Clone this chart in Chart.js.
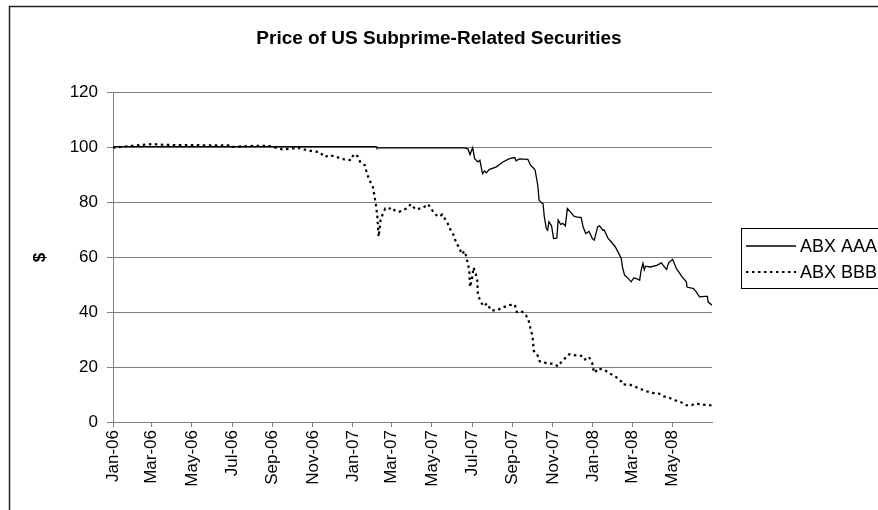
<!DOCTYPE html>
<html>
<head>
<meta charset="utf-8">
<title>Price of US Subprime-Related Securities</title>
<script src="https://cdn.jsdelivr.net/npm/chart.js@4.4.0/dist/chart.umd.min.js"></script>
<style>
  html, body { margin: 0; padding: 0; background: #fff; overflow: hidden; }
  #wrap { position: relative; width: 878px; height: 510px; }
</style>
</head>
<body>
<div id="wrap"><canvas id="abxChart" width="878" height="510"></canvas></div>
<script>
// ABX index prices
var aaaDates = [
  '2006-01-01', '2007-02-05', '2007-02-06', '2007-06-20', '2007-06-25', '2007-06-28',
  '2007-07-02', '2007-07-05', '2007-07-10', '2007-07-13', '2007-07-17', '2007-07-20',
  '2007-07-23', '2007-07-27', '2007-08-07', '2007-08-17', '2007-08-27', '2007-09-04',
  '2007-09-06', '2007-09-11', '2007-09-24', '2007-09-28', '2007-10-03', '2007-10-05',
  '2007-10-09', '2007-10-11', '2007-10-15', '2007-10-17', '2007-10-19', '2007-10-22',
  '2007-10-24', '2007-10-26', '2007-10-30', '2007-11-02', '2007-11-07', '2007-11-09',
  '2007-11-13', '2007-11-16', '2007-11-20', '2007-11-23', '2007-11-28', '2007-12-03',
  '2007-12-07', '2007-12-14', '2007-12-17', '2007-12-21', '2007-12-26', '2007-12-31',
  '2008-01-03', '2008-01-08', '2008-01-11', '2008-01-16', '2008-01-18', '2008-01-24',
  '2008-01-29', '2008-02-04', '2008-02-08', '2008-02-13', '2008-02-15', '2008-02-18',
  '2008-02-22', '2008-02-28', '2008-03-03', '2008-03-07', '2008-03-12', '2008-03-14',
  '2008-03-17', '2008-03-19', '2008-03-21', '2008-03-28', '2008-04-07', '2008-04-14',
  '2008-04-17', '2008-04-22', '2008-04-25', '2008-05-01', '2008-05-07', '2008-05-15',
  '2008-05-22', '2008-05-23', '2008-06-02', '2008-06-06', '2008-06-11', '2008-06-19',
  '2008-06-23', '2008-06-24', '2008-06-30'
];
var aaaPrices = [
  100.4, 100.4, 99.9, 99.9, 99.5, 97.5,
  100, 96, 94.8, 95.4, 90.5, 91.5,
  90.8, 92, 93, 94.8, 96, 96.4,
  95.2, 95.9, 95.7, 93.6, 92.4, 91.8,
  86.3, 80.9, 79.8, 79.6, 74.8, 70.5,
  69.9, 73, 71.5, 66.9, 67, 73.6,
  72, 72.4, 71.5, 77.8, 76.5, 75,
  74.8, 74.5, 71.1, 68.7, 69.5, 66.9,
  66.3, 71.1, 71.5, 69.9, 70, 66.9,
  65.6, 63.8, 62, 59.6, 56.3, 53.5,
  52.7, 51.1, 52.5, 52.3, 51.7, 55,
  57.8, 55.5, 56.8, 56.5, 57.1, 58,
  57, 55.6, 58, 59.3, 55.9, 53.1,
  51.1, 49.2, 48.6, 47.4, 45.6, 45.8,
  45.8, 43.8, 42.6
];

var bbbDates = [
  '2006-01-01', '2006-01-31', '2006-03-02', '2006-03-23', '2006-05-12', '2006-06-27',
  '2006-07-02', '2006-08-07', '2006-08-27', '2006-09-16', '2006-09-29', '2006-10-12',
  '2006-10-22', '2006-11-01', '2006-11-11', '2006-11-19', '2006-11-26', '2006-12-07',
  '2006-12-19', '2006-12-29', '2007-01-02', '2007-01-08', '2007-01-12', '2007-01-19',
  '2007-01-22', '2007-01-26', '2007-01-31', '2007-02-02', '2007-02-05', '2007-02-07',
  '2007-02-09', '2007-02-12', '2007-02-15', '2007-02-19', '2007-02-23', '2007-03-01',
  '2007-03-05', '2007-03-12', '2007-03-16', '2007-03-23', '2007-03-30', '2007-04-06',
  '2007-04-17', '2007-04-25', '2007-04-30', '2007-05-04', '2007-05-11', '2007-05-17',
  '2007-05-25', '2007-05-29', '2007-06-04', '2007-06-07', '2007-06-12', '2007-06-15',
  '2007-06-20', '2007-06-22', '2007-06-25', '2007-06-27', '2007-06-28', '2007-07-02',
  '2007-07-03', '2007-07-06', '2007-07-09', '2007-07-10', '2007-07-13', '2007-07-18',
  '2007-07-24', '2007-07-30', '2007-08-08', '2007-08-16', '2007-08-27', '2007-09-04',
  '2007-09-07', '2007-09-14', '2007-09-21', '2007-09-25', '2007-09-28', '2007-10-01',
  '2007-10-02', '2007-10-03', '2007-10-08', '2007-10-12', '2007-10-17', '2007-10-24',
  '2007-11-01', '2007-11-09', '2007-11-14', '2007-11-19', '2007-11-26', '2007-12-03',
  '2007-12-07', '2007-12-17', '2007-12-20', '2007-12-26', '2007-12-31', '2008-01-02',
  '2008-01-04', '2008-01-08', '2008-01-18', '2008-01-25', '2008-02-05', '2008-02-13',
  '2008-02-15', '2008-02-26', '2008-03-04', '2008-03-12', '2008-03-21', '2008-03-31',
  '2008-04-10', '2008-04-17', '2008-04-25', '2008-05-05', '2008-05-14', '2008-05-22',
  '2008-05-30', '2008-06-04', '2008-06-13', '2008-06-23', '2008-06-30'
];
var bbbPrices = [
  100, 100.7, 101.3, 101, 100.9, 100.8,
  100.3, 100.7, 100.6, 99.3, 99.7, 99.9,
  99.1, 98.7, 98.4, 96.6, 97.3, 96.6,
  95.7, 95.4, 97.6, 96.9, 94.8, 93.6,
  90.8, 88.1, 86, 83.3, 79, 75,
  67.5, 73.6, 75.7, 77.8, 77.5, 78.2,
  77.2, 76.6, 77, 77.8, 79.4, 77.5,
  78, 79.4, 77.8, 76.2, 74.8, 75.6,
  72.4, 70.2, 67.7, 65.1, 63.6, 61.2,
  62.3, 60.4, 57.5, 54.7, 49.2, 53.5,
  56.3, 54.7, 51.7, 46.2, 44.6, 42.2,
  43.2, 40.7, 40.7, 41.7, 42.6, 42.8,
  40.1, 40.5, 38.9, 37.1, 34.1, 31.3,
  28.6, 25.9, 24.7, 22.1, 21.9, 21.3,
  21.3, 20.3, 21.9, 23.1, 24.7, 24.3,
  24.4, 24, 22.8, 23.7, 21.3, 18.6,
  17.9, 19.5, 19.1, 17.9, 16.4, 14.8,
  13.7, 13.6, 13, 12.2, 11.3, 10.6,
  10.4, 9.4, 8.9, 7.9, 7.2, 6.1,
  6.1, 6.7, 6.5, 6.1, 6.1
];

var tickDates = [
  '2006-01-01', '2006-03-01', '2006-05-01', '2006-07-01', '2006-09-01', '2006-11-01',
  '2007-01-01', '2007-03-01', '2007-05-01', '2007-07-01', '2007-09-01', '2007-11-01',
  '2008-01-01', '2008-03-01', '2008-05-01'
];
var tickLabels = [
  'Jan-06', 'Mar-06', 'May-06', 'Jul-06', 'Sep-06', 'Nov-06',
  'Jan-07', 'Mar-07', 'May-07', 'Jul-07', 'Sep-07', 'Nov-07',
  'Jan-08', 'Mar-08', 'May-08'
];
var yTicks = [0, 20, 40, 60, 80, 100, 120];
var lastDate = '2008-06-30';

var fontFamily = '"Liberation Sans", Arial, sans-serif';

// days since 1 Jan 2006
function toDay(s) {
  return (Date.parse(s) - Date.parse('2006-01-01')) / 86400000;
}

function toPoints(dates, values) {
  return dates.map(function (d, i) { return { x: toDay(d), y: values[i] }; });
}

// white page and the outer frame of the chart object
var framePlugin = {
  id: 'frame',
  beforeDraw: function (chart) {
    var ctx = chart.ctx;
    ctx.save();
    ctx.fillStyle = '#fff';
    ctx.fillRect(0, 0, chart.width, chart.height);
    ctx.strokeStyle = '#222';
    ctx.lineWidth = 1.5;
    ctx.strokeRect(9.5, 6.5, 1000, 1000);
    ctx.restore();
  }
};

// boxed legend on the right, cut by the edge like the original
var boxLegend = {
  id: 'boxLegend',
  afterDraw: function (chart) {
    var ctx = chart.ctx;
    var left = 741, top = 228, rowH = 26;
    ctx.save();
    ctx.strokeStyle = '#000';
    ctx.lineWidth = 1;
    ctx.setLineDash([]);
    ctx.strokeRect(left + 0.5, top + 0.5, 200, 60);
    chart.data.datasets.forEach(function (ds, i) {
      var y = top + 18 + i * rowH;
      ctx.beginPath();
      ctx.strokeStyle = ds.borderColor;
      ctx.lineWidth = ds.borderWidth;
      ctx.setLineDash(ds.borderDash || []);
      ctx.moveTo(left + 5, y);
      ctx.lineTo(left + 55, y);
      ctx.stroke();
      ctx.setLineDash([]);
      ctx.fillStyle = '#000';
      ctx.font = '18px ' + fontFamily;
      ctx.textBaseline = 'middle';
      ctx.textAlign = 'left';
      ctx.fillText(ds.label, left + 59, y + 1);
    });
    ctx.restore();
  }
};

var ctx = document.getElementById('abxChart').getContext('2d');
var abxChart = new Chart(ctx, {
  type: 'line',
  data: {
    datasets: [{
      label: 'ABX AAA',
      data: toPoints(aaaDates, aaaPrices),
      borderColor: '#000',
      borderWidth: 1.3,
      pointRadius: 0,
      fill: false,
      tension: 0,
      xAxisID: 'x',
      yAxisID: 'y'
    }, {
      label: 'ABX BBB',
      data: toPoints(bbbDates, bbbPrices),
      borderColor: '#000',
      borderWidth: 2.2,
      borderDash: [2.5, 3.5],
      pointRadius: 0,
      fill: false,
      tension: 0,
      xAxisID: 'x',
      yAxisID: 'y'
    }]
  },
  options: {
    responsive: false,
    animation: false,
    layout: { padding: 0 },
    plugins: {
      legend: { display: false },
      tooltip: { enabled: false },
      title: {
        display: true,
        text: 'Price of US Subprime-Related Securities',
        color: '#000',
        font: { family: fontFamily, size: 19, weight: 'bold' },
        padding: { top: 27, bottom: 43 }
      }
    },
    scales: {
      x: {
        type: 'linear',
        min: 0,
        max: toDay(lastDate),
        afterBuildTicks: function (scale) {
          scale.ticks = tickDates.map(function (d) { return { value: toDay(d) }; });
        },
        afterFit: function (scale) { scale.height = 88; },
        ticks: {
          autoSkip: false,
          minRotation: 90,
          maxRotation: 90,
          padding: 3,
          color: '#000',
          font: { family: fontFamily, size: 17 },
          callback: function (value, index) { return tickLabels[index]; }
        },
        grid: { drawOnChartArea: false, drawTicks: true, tickLength: 5, color: '#808080' },
        border: { color: '#808080', width: 1 }
      },
      y: {
        position: 'left',
        min: 0,
        max: 120,
        afterBuildTicks: function (scale) {
          scale.ticks = yTicks.map(function (v) { return { value: v }; });
        },
        afterFit: function (scale) { scale.width = 113; },
        ticks: {
          padding: 9,
          color: '#000',
          font: { family: fontFamily, size: 17 }
        },
        grid: { color: '#808080', lineWidth: 1, tickLength: 6 },
        border: { color: '#808080', width: 1 },
        title: {
          display: true,
          text: '$',
          color: '#000',
          font: { family: fontFamily, size: 17, weight: 'bold' },
          padding: { top: 30, bottom: 0 }
        }
      },
      yRight: {
        position: 'right',
        display: true,
        afterFit: function (scale) { scale.width = 166; },
        ticks: { display: false },
        grid: { display: false },
        border: { display: false }
      }
    }
  },
  plugins: [framePlugin, boxLegend]
});
</script>
</body>
</html>
